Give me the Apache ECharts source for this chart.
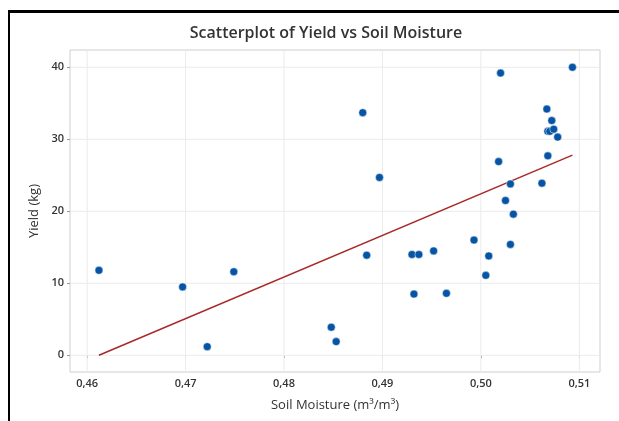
<!DOCTYPE html>
<html>
<head>
<meta charset="utf-8">
<script src="https://cdn.jsdelivr.net/npm/echarts@6/dist/echarts.min.js"></script>
<style>
  html, body { margin: 0; padding: 0; background: #fff; }
  #wrap { position: relative; width: 619px; height: 421px; overflow: hidden; }
  #frame { position: absolute; left: 8px; top: 10px; right: -10px; bottom: -10px;
           border-left: 2px solid #000; border-top: 3px solid #000; pointer-events: none; z-index: 2; }
  #chart { position: absolute; left: 0; top: 0; width: 619px; height: 421px; }
</style>
</head>
<body>
<div id="wrap">
  <div id="chart"></div>
  <div id="frame"></div>
</div>
<script>
// ---- data ----
const soilMoisture = [0.4612, 0.4697, 0.4722, 0.4749, 0.4848, 0.4853, 0.4880, 0.4884,
  0.4897, 0.4930, 0.4937, 0.4932, 0.4952, 0.4965, 0.4993, 0.5005, 0.5008, 0.5020,
  0.5018, 0.5025, 0.5030, 0.5033, 0.5030, 0.5062, 0.5067, 0.5068, 0.5072, 0.5068,
  0.5070, 0.5074, 0.5078, 0.5093];
const yieldKg = [11.8, 9.5, 1.2, 11.6, 3.9, 1.9, 33.7, 13.9,
  24.7, 14.0, 14.0, 8.5, 14.5, 8.6, 16.0, 11.1, 13.8, 39.2,
  26.9, 21.5, 23.8, 19.6, 15.4, 23.9, 34.2, 27.7, 32.6, 31.1,
  31.1, 31.4, 30.3, 40.0];
// fitted regression line end points (as drawn in the reference)
const fitX = [0.4612, 0.5093];
const fitY = [0.0, 27.8];
// tick labels
const xTicks = [0.46, 0.47, 0.48, 0.49, 0.50, 0.51];
const yTicks = [0, 10, 20, 30, 40];
// axis ranges
const xRange = [0.45826, 0.5121];
const yRange = [-2.32, 42.4];

const points = soilMoisture.map((x, i) => [x, yieldKg[i]]);
const fitLine = fitX.map((x, i) => [x, fitY[i]]);
// gridlines as broken line segments through the axis scales
const gridData = [];
xTicks.forEach(v => { gridData.push([v, yRange[0]], [v, yRange[1]], '-'); });
yTicks.forEach(v => { gridData.push([xRange[0], v], [xRange[1], v], '-'); });

const chart = echarts.init(document.getElementById('chart'), null, { renderer: 'canvas' });
const fontFam = '"Open Sans", "Noto Sans", sans-serif';
chart.setOption({
  animation: false,
  backgroundColor: '#fff',
  title: {
    text: 'Scatterplot of Yield vs Soil Moisture',
    left: 321, top: 20, textAlign: 'center',
    textStyle: { fontFamily: fontFam, fontSize: 16, fontWeight: 600, color: '#333' }
  },
  grid: {
    left: 70, top: 50, right: 19, bottom: 49,
    outerBoundsMode: 'none', containLabel: false,
    show: true, borderColor: '#cfcfcf', borderWidth: 1, backgroundColor: 'transparent'
  },
  xAxis: {
    type: 'value', min: xRange[0], max: xRange[1],
    name: 'Soil Moisture (m³/m³)', nameLocation: 'middle', nameGap: 27,
    nameTextStyle: { fontFamily: fontFam, fontSize: 13, color: '#333' },
    axisLine: { show: false },
    axisTick: { show: true, customValues: xTicks, length: 3, inside: false, lineStyle: { color: '#999' } },
    axisLabel: { customValues: xTicks, margin: 6, fontFamily: fontFam, fontSize: 11, fontWeight: 600, color: '#333',
      formatter: v => v.toFixed(2).replace('.', ',') },
    splitLine: { show: false }
  },
  yAxis: {
    type: 'value', min: yRange[0], max: yRange[1],
    name: 'Yield (kg)', nameLocation: 'middle', nameGap: 23, nameRotate: 90,
    nameTextStyle: { fontFamily: fontFam, fontSize: 13, color: '#333' },
    axisLine: { show: false },
    axisTick: { show: true, customValues: yTicks, length: 3, inside: false, lineStyle: { color: '#999' } },
    axisLabel: { customValues: yTicks, margin: 6, fontFamily: fontFam, fontSize: 11, fontWeight: 600, color: '#333' },
    splitLine: { show: false }
  },
  series: [
    {
      type: 'line', data: gridData, symbol: 'none', silent: true, z: 0, connectNulls: false,
      lineStyle: { color: '#ebebeb', width: 1 }
    },
    {
      type: 'line', data: fitLine, symbol: 'none', z: 3,
      lineStyle: { color: '#a82a2a', width: 1.6 }
    },
    {
      type: 'scatter', data: points, symbol: 'circle', symbolSize: 8, z: 4,
      itemStyle: { color: '#0654a5', borderColor: '#fff', borderWidth: 0.5, opacity: 1 }
    }
  ]
});
</script>
</body>
</html>
